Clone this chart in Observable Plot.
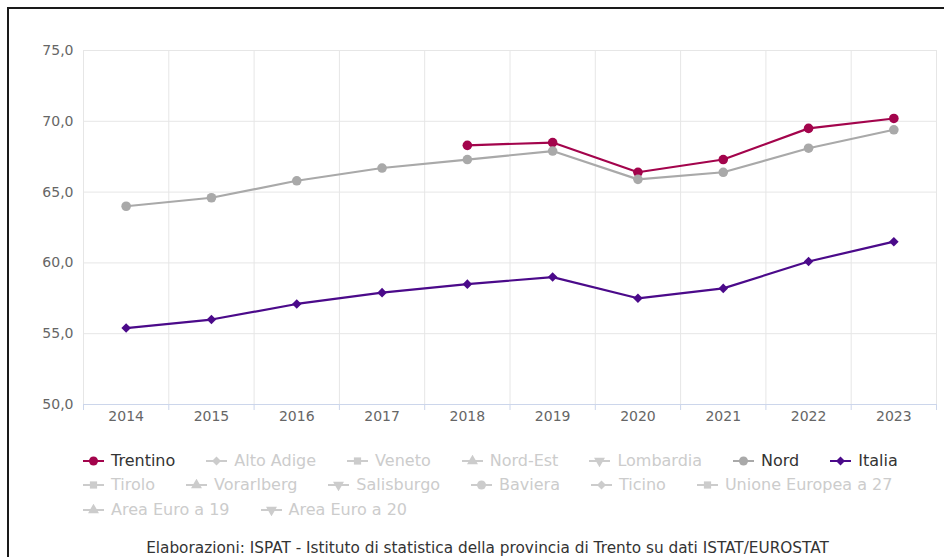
<!DOCTYPE html>
<html><head><meta charset="utf-8">
<script src="https://cdn.jsdelivr.net/npm/d3@7"></script>
<script src="https://cdn.jsdelivr.net/npm/@observablehq/plot@0.6"></script>
<style>
body{margin:0;background:#fff;width:944px;height:557px;overflow:hidden;position:relative;font-family:"DejaVu Sans",Verdana,sans-serif}
#frame{position:absolute;left:7px;top:7px;width:980px;height:600px;border-left:2px solid #1a1a1a;border-top:2px solid #1a1a1a;box-sizing:border-box}
#chart{position:absolute;left:0;top:0}
#legend{position:absolute;left:83px;top:450.5px;width:860px;display:flex;flex-wrap:wrap;column-gap:31px;row-gap:4.5px}
.item{display:flex;align-items:center;height:20px;line-height:20px;font-size:16px;white-space:nowrap}
.item svg{margin-right:7px;display:block}
#caption{position:absolute;left:0;width:975px;top:539px;line-height:18px;text-align:center;font-size:15.3px;color:#333}
</style></head><body>
<div id="frame"></div>
<div id="chart"></div>
<div id="legend"></div>
<div id="caption"></div>
<script>
const years = [2014, 2015, 2016, 2017, 2018, 2019, 2020, 2021, 2022, 2023];
const trentino = [null, null, null, null, 68.3, 68.5, 66.4, 67.3, 69.5, 70.2];
const nord = [64.0, 64.6, 65.8, 66.7, 67.3, 67.9, 65.9, 66.4, 68.1, 69.4];
const italia = [55.4, 56.0, 57.1, 57.9, 58.5, 59.0, 57.5, 58.2, 60.1, 61.5];
const yTicks = [50, 55, 60, 65, 70, 75];

const legendNames = ["Trentino", "Alto Adige", "Veneto", "Nord-Est", "Lombardia", "Nord", "Italia",
  "Tirolo", "Vorarlberg", "Salisburgo", "Baviera", "Ticino", "Unione Europea a 27",
  "Area Euro a 19", "Area Euro a 20"];
const legendSymbols = ["circle", "diamond", "square", "triangle", "triangle-down", "circle", "diamond",
  "square", "triangle", "triangle-down", "circle", "diamond", "square", "triangle", "triangle-down"];
const visibleColors = {"Trentino": "#a3044c", "Nord": "#a9a9a9", "Italia": "#4b0a8a"};
const captionText = "Elaborazioni: ISPAT - Istituto di statistica della provincia di Trento su dati ISTAT/EUROSTAT";

function toRows(values) {
  const out = [];
  values.forEach((v, i) => { if (v != null) out.push({year: years[i], value: v}); });
  return out;
}
const bounds = years.map(y => y - 0.5).concat([years[years.length - 1] + 0.5]);

const dTrentino = toRows(trentino), dNord = toRows(nord), dItalia = toRows(italia);

const chart = Plot.plot({
  width: 944, height: 430,
  marginTop: 50, marginBottom: 26, marginLeft: 83, marginRight: 8,
  x: {type: "linear", domain: [bounds[0], bounds[bounds.length - 1]], label: null},
  y: {domain: [50, 75], label: null},
  style: {fontFamily: "'DejaVu Sans', Verdana, sans-serif", fontSize: "14px", color: "#666", background: "transparent"},
  marks: [
    Plot.gridY(yTicks, {stroke: "#e6e6e6", strokeOpacity: 1}),
    Plot.gridX(bounds, {stroke: "#e6e6e6", strokeOpacity: 1}),
    Plot.ruleY([50], {stroke: "#ccd6eb"}),
    Plot.axisX(bounds, {tickSize: 6, tickFormat: () => "", stroke: "#ccd6eb", label: null}),
    Plot.axisX(years, {tickSize: 0, tickPadding: 7, tickFormat: d => String(d), fill: "#666", label: null}),
    Plot.axisY(yTicks, {tickSize: 0, tickPadding: 10, tickFormat: d => d.toFixed(1).replace(".", ","), fill: "#666", label: null}),
    Plot.line(dTrentino, {x: "year", y: "value", stroke: visibleColors["Trentino"], strokeWidth: 2.2}),
    Plot.dot(dTrentino, {x: "year", y: "value", fill: visibleColors["Trentino"], r: 4.8, symbol: "circle"}),
    Plot.line(dNord, {x: "year", y: "value", stroke: visibleColors["Nord"], strokeWidth: 2.2}),
    Plot.dot(dNord, {x: "year", y: "value", fill: visibleColors["Nord"], r: 4.8, symbol: "circle"}),
    Plot.line(dItalia, {x: "year", y: "value", stroke: visibleColors["Italia"], strokeWidth: 2.2}),
    Plot.dot(dItalia, {x: "year", y: "value", fill: visibleColors["Italia"], r: 4.3, symbol: "diamond2"})
  ]
});
document.getElementById("chart").appendChild(chart);

// legend
const symbolMap = {
  "circle": d3.symbolCircle, "diamond": d3.symbolDiamond2, "square": d3.symbolSquare,
  "triangle": d3.symbolTriangle, "triangle-down": d3.symbolTriangle
};
const legend = d3.select("#legend");
legendNames.forEach((name, i) => {
  const color = visibleColors[name];
  const on = color != null;
  const c = on ? color : "#cccccc";
  const item = legend.append("div").attr("class", "item").style("color", on ? "#333333" : "#cccccc");
  const svg = item.append("svg").attr("width", 21).attr("height", 12);
  svg.append("line").attr("x1", 0).attr("x2", 21).attr("y1", 6).attr("y2", 6)
    .attr("stroke", c).attr("stroke-width", 2);
  const sym = legendSymbols[i];
  svg.append("path")
    .attr("d", d3.symbol(symbolMap[sym], sym === "circle" ? 64 : 52)())
    .attr("transform", `translate(10.5,6)${sym === "triangle-down" ? " rotate(180)" : ""}`)
    .attr("fill", c);
  item.append("span").text(name);
});
document.getElementById("caption").textContent = captionText;
</script>
</body></html>
